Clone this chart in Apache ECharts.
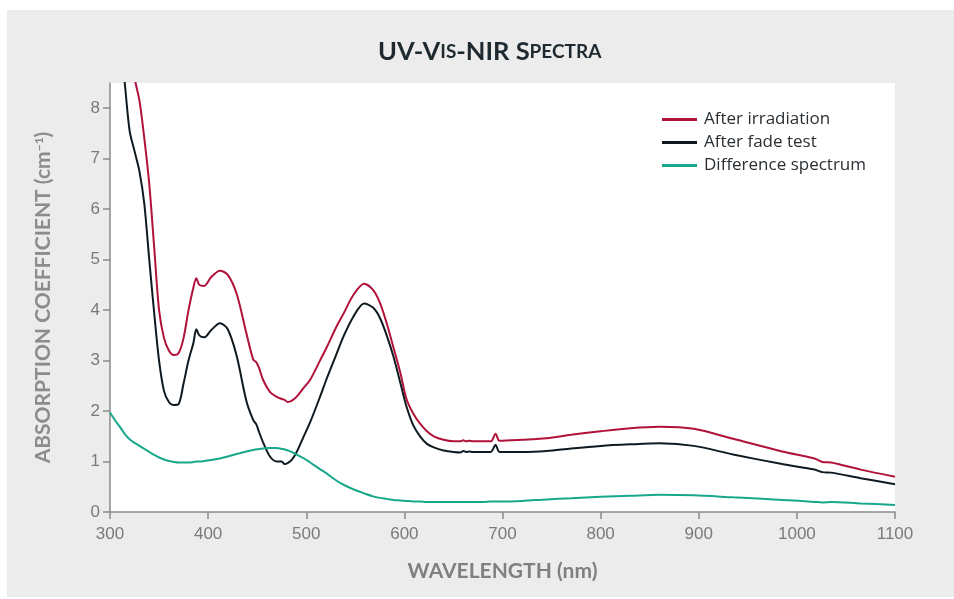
<!DOCTYPE html>
<html>
<head>
<meta charset="utf-8">
<script src="https://cdn.jsdelivr.net/npm/echarts@6/dist/echarts.min.js"></script>
<style>
  html, body { margin: 0; padding: 0; background: #fff; }
  #main { width: 954px; height: 599px; }
</style>
</head>
<body>
<div id="main"></div>
<script>
// wavelength grid (nm)
var wavelengths = [300,305,310,315,320,325,330,335,340,345,350,355,360,365,370,375,380,385,388,391,396,403,412,420,429,439,446,449,452,456,463,470,475,478,481,485,490,497,504,514,521,531,538,548,559,568,575,582,589,596,602,609,616,623,630,640,650,657,660,663,666,670,680,688,693,697,720,745,770,800,830,860,895,935,985,1018,1026,1035,1065,1100];

var afterIrradiation = [13,12,11,10,9.2,8.6,8.15,7.4,6.5,5.25,4.0,3.45,3.2,3.11,3.15,3.45,4.0,4.45,4.63,4.5,4.48,4.65,4.78,4.7,4.33,3.54,3.02,2.97,2.85,2.62,2.38,2.28,2.24,2.22,2.18,2.2,2.28,2.45,2.62,3.0,3.27,3.68,3.93,4.3,4.52,4.4,4.15,3.74,3.25,2.75,2.25,1.95,1.75,1.6,1.5,1.43,1.4,1.4,1.42,1.4,1.41,1.4,1.4,1.4,1.55,1.41,1.43,1.46,1.53,1.6,1.66,1.69,1.65,1.45,1.2,1.06,0.99,0.98,0.84,0.7];

var afterFadeTest = [11.5,10.3,9.3,8.5,7.55,7.15,6.75,6.1,5.0,3.95,3.0,2.4,2.18,2.12,2.14,2.55,3.0,3.35,3.62,3.5,3.46,3.6,3.74,3.62,3.1,2.2,1.82,1.74,1.58,1.38,1.1,1.0,1.0,0.95,0.97,1.03,1.18,1.48,1.78,2.28,2.65,3.14,3.48,3.87,4.13,4.05,3.85,3.5,3.07,2.55,2.1,1.72,1.5,1.35,1.28,1.22,1.19,1.18,1.21,1.19,1.2,1.19,1.19,1.19,1.33,1.19,1.19,1.21,1.26,1.31,1.34,1.36,1.31,1.14,0.95,0.84,0.79,0.78,0.67,0.55];

var differenceSpectrum = [1.97,1.82,1.69,1.55,1.44,1.37,1.31,1.25,1.19,1.13,1.08,1.04,1.01,0.99,0.98,0.98,0.98,0.99,1.0,1.0,1.01,1.03,1.06,1.1,1.15,1.2,1.23,1.24,1.25,1.26,1.27,1.27,1.25,1.24,1.22,1.19,1.14,1.07,0.98,0.85,0.76,0.62,0.54,0.45,0.37,0.31,0.28,0.26,0.24,0.23,0.22,0.21,0.21,0.2,0.2,0.2,0.2,0.2,0.2,0.2,0.2,0.2,0.2,0.21,0.21,0.21,0.22,0.25,0.27,0.3,0.32,0.34,0.33,0.29,0.24,0.2,0.19,0.2,0.17,0.14];

var yTicks = [0,1,2,3,4,5,6,7,8];

var pairs = function(vals){
    return wavelengths.map(function(w, i){ return [w, vals[i]]; });
};

var myChart = echarts.init(document.getElementById('main'));
var axisGray = '#8a8a8a';
var line = function(name, vals, color){
    return {
        name: name,
        type: 'line',
        data: pairs(vals),
        showSymbol: false,
        smooth: 0.3,
        clip: true,
        lineStyle: { color: color, width: 2 },
        itemStyle: { color: color }
    };
};

option = {
    backgroundColor: '#fff',
    animation: false,
    graphic: [{
        type: 'rect',
        z: -10,
        shape: { x: 7, y: 10, width: 947, height: 587 },
        style: { fill: '#ececec' }
    }],
    title: {
        left: 373,
        top: 34,
        text: '{b|UV-V}{s|IS}{b|-NIR S}{s|PECTRA}',
        textStyle: {
            rich: {
                b: { fontFamily: 'Lato, sans-serif', fontWeight: 'bold', fontSize: 25.5, color: '#1e2a30' },
                s: { fontFamily: 'Lato, sans-serif', fontWeight: 'bold', fontSize: 19, color: '#1e2a30' }
            }
        }
    },
    legend: {
        orient: 'vertical',
        left: 657,
        top: 105,
        itemWidth: 35,
        itemHeight: 3,
        itemGap: 4,
        icon: 'rect',
        textStyle: { fontFamily: 'Open Sans, sans-serif', fontSize: 17, color: '#2a2f33', lineHeight: 19, padding: [0, 0, 0, 2] },
        data: ['After irradiation', 'After fade test', 'Difference spectrum']
    },
    grid: {
        left: 110, right: 59, top: 83, bottom: 87,
        show: true, backgroundColor: '#fff', borderWidth: 0
    },
    xAxis: {
        type: 'value',
        min: 300, max: 1100, interval: 100,
        name: 'WAVELENGTH (nm)',
        nameLocation: 'middle',
        nameGap: 49,
        nameTextStyle: { fontFamily: 'Lato, sans-serif', fontWeight: 'bold', fontSize: 21, color: '#808080' },
        axisLine: { lineStyle: { color: axisGray, width: 1.5 } },
        axisTick: { length: 7, lineStyle: { color: axisGray, width: 1.5 } },
        axisLabel: {
            margin: 14, fontFamily: 'Liberation Sans, sans-serif', fontSize: 17, color: '#7a7a7a',
            formatter: function(v){ return String(v); }
        },
        splitLine: { show: false }
    },
    yAxis: {
        type: 'value',
        min: 0, max: 8.5,
        name: 'ABSORPTION COEFFICIENT (cm{sup|\u22121})',
        nameLocation: 'middle',
        nameGap: 56,
        nameRotate: 90,
        nameTextStyle: {
            fontFamily: 'Lato, sans-serif', fontWeight: 'bold', fontSize: 21, color: '#8c8c8c',
            rich: { sup: { fontFamily: 'Lato, sans-serif', fontWeight: 'bold', fontSize: 12, color: '#8c8c8c', verticalAlign: 'top', padding: [0, 0, 9, 0] } }
        },
        axisLine: { show: true, lineStyle: { color: axisGray, width: 1.5 } },
        axisTick: { show: true, length: 7, customValues: yTicks, lineStyle: { color: axisGray, width: 1.5 } },
        axisLabel: { margin: 10, customValues: yTicks, fontFamily: 'Liberation Sans, sans-serif', fontSize: 17, color: '#7a7a7a' },
        splitLine: { show: false }
    },
    series: [
        line('After irradiation', afterIrradiation, '#b0123a'),
        line('After fade test', afterFadeTest, '#0f1a20'),
        line('Difference spectrum', differenceSpectrum, '#17a88a')
    ]
};
myChart.setOption(option);
</script>
</body>
</html>
